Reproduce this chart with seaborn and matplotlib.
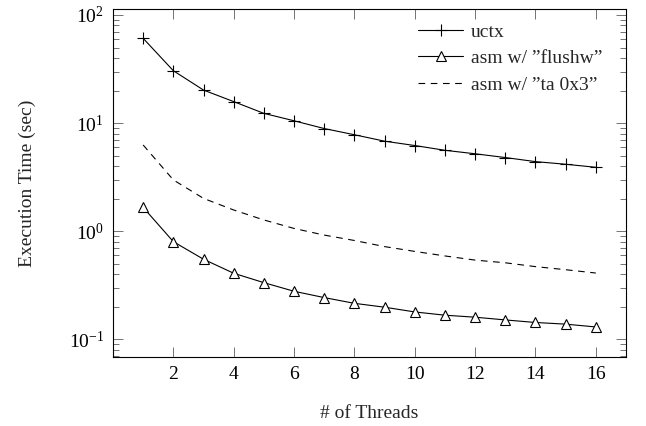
import matplotlib
matplotlib.use("Agg")
import matplotlib.pyplot as plt
import seaborn as sns
import numpy as np
from matplotlib.ticker import LogLocator, NullLocator

# values
threads = list(range(1, 17))
uctx = [60.8, 30.5, 20.2, 15.8, 12.3, 10.5, 8.9, 7.8, 6.8, 6.2, 5.6, 5.2, 4.8, 4.4, 4.16, 3.9]
flushw = [1.66, 0.80, 0.55, 0.408, 0.334, 0.278, 0.243, 0.215, 0.198, 0.179,
          0.167, 0.160, 0.151, 0.143, 0.138, 0.130]
ta0x3 = [6.27, 2.98, 2.01, 1.57, 1.27, 1.06, 0.92, 0.82, 0.72, 0.65,
         0.59, 0.54, 0.51, 0.47, 0.44, 0.41]
labels = ["uctx", "asm w/ \u201dflushw\u201d", "asm w/ \u201dta 0x3\u201d"]

sns.set_style("ticks")
plt.rcParams["font.family"] = ["Liberation Serif", "DejaVu Serif"]
plt.rcParams["mathtext.fontset"] = "stix"

fig = plt.figure(figsize=(6.46, 4.26), dpi=100)
ax = fig.add_axes([0.1749, 0.1627, 0.7941, 0.8155])

sns.lineplot(x=threads, y=uctx, ax=ax, color="black", lw=0.8, marker="+",
             ms=9, mew=0.8, mec="black", label=labels[0])
sns.lineplot(x=threads, y=flushw, ax=ax, color="black", lw=0.8, marker="^",
             ms=7.5, mew=0.8, mfc="white", mec="black", label=labels[1])
sns.lineplot(x=threads, y=ta0x3, ax=ax, color="black", lw=0.8, label=labels[2])
ax.lines[-1].set_dashes((6, 5))

ax.set_yscale("log")
ax.set_xlim(0, 17)
ax.set_ylim(0.069, 112.9)
ax.set_xticks(range(2, 17, 2))
ax.xaxis.set_minor_locator(NullLocator())
ax.yaxis.set_major_locator(LogLocator(base=10))
ax.yaxis.set_minor_locator(LogLocator(base=10, subs=np.arange(2, 10)))

ax.tick_params(which="both", direction="in", top=True, right=True, color="0.45", width=0.7)
ax.tick_params(which="major", length=7, pad=6.5, labelsize=14, labelcolor="black")
ax.tick_params(which="minor", length=4.5)
for sp in ax.spines.values():
    sp.set_linewidth(0.8)
    sp.set_color("black")

ax.set_xlabel("# of Threads", fontsize=14, labelpad=16)
ax.set_ylabel("Execution Time (sec)", fontsize=14, labelpad=23.5)

ax.legend(frameon=False, loc="upper left", bbox_to_anchor=(0.595, 0.96),
          borderpad=0, borderaxespad=0, handlelength=2.3, handletextpad=0.4,
          labelspacing=0.45, fontsize=14)

fig.savefig("out.png", dpi=100)
